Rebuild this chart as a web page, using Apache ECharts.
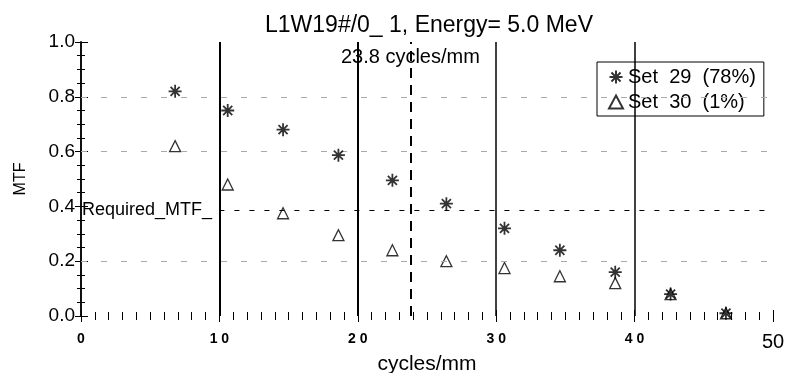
<!DOCTYPE html>
<html>
<head>
<meta charset="utf-8">
<script src="https://cdn.jsdelivr.net/npm/echarts@6/dist/echarts.min.js"></script>
<style>
  html, body { margin: 0; padding: 0; background: #fff; }
  #main { width: 785px; height: 373px; }
</style>
</head>
<body>
<div id="main"></div>
<script>
var chart = echarts.init(document.getElementById('main'));

// frequencies (cycles/mm)
var freqs = [6.8, 10.6, 14.6, 18.6, 22.5, 26.4, 30.6, 34.6, 38.6, 42.6, 46.6];
// MTF values
var set29 = [0.82, 0.75, 0.68, 0.587, 0.495, 0.41, 0.32, 0.24, 0.16, 0.08, 0.01];
var set30 = [0.62, 0.48, 0.375, 0.295, 0.24, 0.2, 0.175, 0.145, 0.12, 0.08, 0.01];
var solidLines = [10, 20, 30, 40];
var gridLevels = [0.2, 0.6, 0.8];
var nyquist = 23.8;
var requiredMtf = 0.385;

var font = 'Liberation Sans';
var asterisk = 'path://M0,-10L0,10M-10,0L10,0M-7,-7L7,7M-7,7L7,-7';

function pairs(ys) {
  return freqs.map(function (x, i) { return [x, ys[i]]; });
}

var option = {
  backgroundColor: '#fff',
  textStyle: { fontFamily: font },
  title: {
    text: 'L1W19#/0_ 1, Energy= 5.0 MeV',
    left: 424,
    textAlign: 'center',
    top: 9,
    textStyle: { fontFamily: font, fontSize: 23, fontWeight: 'normal', color: '#000' }
  },
  legend: {
    left: 597,
    top: 62,
    orient: 'vertical',
    borderColor: '#000',
    borderWidth: 1,
    padding: [5, 8, 4, 11],
    itemGap: 5,
    itemWidth: 14,
    itemHeight: 13,
    formatter: function (name) { return name.replace(/ /g, '  '); },
    textStyle: { fontFamily: font, fontSize: 20, color: '#000' },
    data: ['Set 29 (78%)', 'Set 30 (1%)']
  },
  grid: { left: 81, right: 12, top: 42, bottom: 57, outerBoundsMode: 'none' },
  xAxis: [{
    type: 'value',
    min: 0, max: 50, interval: 10,
    name: 'cycles/mm',
    nameLocation: 'middle',
    nameGap: 38,
    nameMoveOverlap: false,
    nameTextStyle: { fontFamily: font, fontSize: 21, color: '#000' },
    axisLine: { show: false },
    axisTick: { inside: true, length: 6, lineStyle: { color: '#000' } },
    minorTick: { show: true, splitNumber: 10, length: 4, lineStyle: { color: '#000' } },
    splitLine: { show: false },
    axisLabel: {
      margin: 16,
      color: '#000',
      fontSize: 14,
      fontWeight: 'bold',
      formatter: function (v) {
        return v === 50 ? '{big|50}' : String(v).split('').join(' ');
      },
      rich: { big: { fontSize: 20, fontWeight: 'normal', color: '#000', fontFamily: font } }
    }
  }, {
    type: 'value',
    position: 'top',
    min: 0, max: 50, interval: 10,
    axisLine: { show: false },
    axisTick: { inside: true, length: 6, lineStyle: { color: '#000' } },
    minorTick: { show: true, splitNumber: 10, length: 4, lineStyle: { color: '#000' } },
    splitLine: { show: false },
    axisLabel: { show: false }
  }],
  yAxis: [{
    type: 'value',
    min: 0, max: 1, interval: 0.2,
    name: 'MTF',
    nameLocation: 'middle',
    nameGap: 52,
    nameTextStyle: { fontFamily: font, fontSize: 16, color: '#000' },
    axisLine: { show: true, lineStyle: { color: '#000', width: 1.5 } },
    axisTick: { inside: true, length: 7, lineStyle: { color: '#000' } },
    minorTick: { show: true, splitNumber: 4, length: 4, lineStyle: { color: '#000' } },
    splitLine: { show: false },
    axisLabel: {
      margin: 6,
      color: '#000',
      fontSize: 19,
      formatter: function (v) { return v.toFixed(1); }
    }
  }, {
    type: 'value',
    position: 'right',
    min: 0, max: 1, interval: 0.2,
    axisLine: { show: true, lineStyle: { color: '#000', width: 1.5 } },
    axisTick: { inside: true, length: 6, lineStyle: { color: '#000' } },
    minorTick: { show: true, splitNumber: 4, length: 4, lineStyle: { color: '#000' } },
    splitLine: { show: false },
    axisLabel: { show: false }
  }],
  series: [{
    name: 'Set 29 (78%)',
    type: 'scatter',
    symbol: asterisk,
    symbolSize: 13,
    itemStyle: { color: '#000', borderColor: '#000', borderWidth: 1.8 },
    data: pairs(set29),
    z: 5,
    markLine: {
      silent: true,
      symbol: 'none',
      label: { show: false },
      data: gridLevels.map(function (v) {
        return { yAxis: v, lineStyle: { color: '#aaa', type: [6, 14], width: 1 } };
      }).concat(solidLines.map(function (v, i) {
        return { xAxis: v, lineStyle: { color: '#000', type: 'solid', width: i < 2 ? 2 : 1.5 } };
      })).concat([
        { xAxis: nyquist, lineStyle: { color: '#000', type: [10, 7], width: 2 } },
        [{ coord: [10, requiredMtf], lineStyle: { color: '#000', type: [5, 10], width: 1 } },
         { coord: [50, requiredMtf] }]
      ])
    },
    markPoint: {
      silent: true,
      symbol: 'rect',
      symbolSize: 0,
      data: [{
        coord: [nyquist, 0.945],
        label: { show: true, formatter: '23.8 cycles/mm', fontFamily: font, fontSize: 20, color: '#000' }
      }, {
        coord: [0, requiredMtf],
        label: { show: true, position: 'right', distance: 1, formatter: 'Required_MTF_', fontFamily: font, fontSize: 18, color: '#000' }
      }]
    }
  }, {
    name: 'Set 30 (1%)',
    type: 'scatter',
    symbol: 'triangle',
    symbolSize: 11,
    itemStyle: { color: 'rgba(255,255,255,0)', borderColor: '#000', borderWidth: 1.3 },
    data: pairs(set30),
    z: 4
  }]
};

chart.setOption(option);
</script>
</body>
</html>
